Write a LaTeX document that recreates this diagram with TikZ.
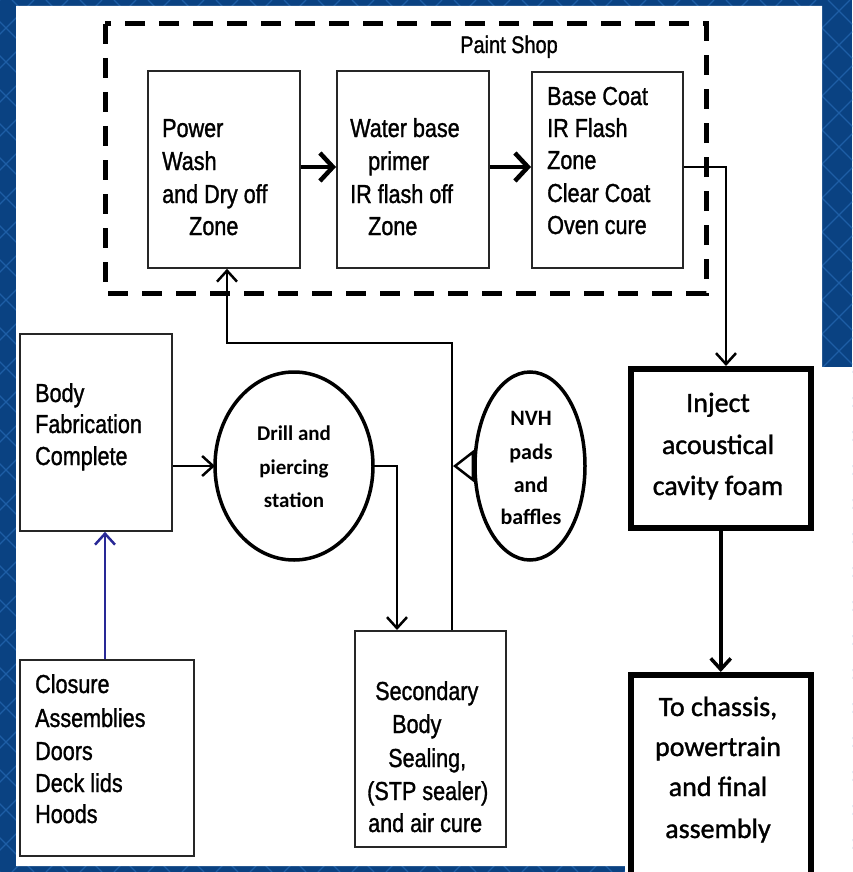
\documentclass[tikz,border=0pt]{standalone}
\usepackage{fontspec}
\setmainfont{Liberation Sans}
\newfontfamily\narrowf{Liberation Sans}[FakeStretch=0.83,FakeBold=1.2]
\newfontfamily\calib{Carlito}[FakeBold=1.2]
\newfontfamily\calibb{Carlito Bold}
\usetikzlibrary{arrows.meta,shapes.geometric}
\definecolor{bgblue}{RGB}{10,66,130}
\definecolor{bgline}{RGB}{30,94,165}
\definecolor{navy}{RGB}{40,40,150}
\begin{document}
\begin{tikzpicture}[x=1pt,y=-1pt,
  box/.style={draw=black!85, line width=1.8pt, inner sep=0pt, anchor=north west},
  tbox/.style={draw=black, line width=5.5pt, inner sep=0pt, anchor=north west},
  oval/.style={ellipse, draw=black, line width=3.5pt, inner sep=0pt, outer sep=0pt},
  nt/.style={font=\narrowf\fontsize{26}{30}\selectfont, anchor=base west, inner sep=0pt},
  ct/.style={font=\calib\fontsize{28}{34}\selectfont, anchor=base, inner sep=0pt},
  dt/.style={font=\calibb\fontsize{21}{26}\selectfont, anchor=base, inner sep=0pt},
  vt/.style={font=\calibb\fontsize{22}{26}\selectfont, anchor=base, inner sep=0pt},
  arr/.style={-{Straight Barb[length=11pt,width=20pt]}, line width=2.5pt},
  thickarr/.style={-{Straight Barb[length=13pt,width=28pt]}, line width=4.5pt},
  openarr/.style={-{Triangle[open,length=21pt,width=32pt,line width=2.5pt]}, line width=3pt},
]
\useasboundingbox (0,0) rectangle (852,872);
\clip (0,0) rectangle (852,872);
% background
\fill[bgblue] (0,0) rectangle (852,872);
\foreach \c in {0,34,...,1760} {
  \draw[bgline, line width=1.2pt] (\c,0) -- (\c-872,872);
  \draw[bgline, line width=1.2pt] (\c-872,0) -- (\c,872);
}
\fill[white] (16,6) -- (822,6) -- (822,367) -- (852,367) -- (852,872) -- (625,872) -- (625,866) -- (16,866) -- cycle;

% paint shop frame
\draw[line width=5pt, dash pattern=on 20pt off 14pt] (105,24) rectangle (706,293);
\node[font=\narrowf\fontsize{24}{28}\selectfont, anchor=base, inner sep=0pt] (ps) at (509,53) {Paint Shop};

% boxes
\node[box, minimum width=152pt, minimum height=197pt] (pw) at (147,70) {};
\node[box, minimum width=152pt, minimum height=197pt] (wb) at (336,70) {};
\node[box, minimum width=151pt, minimum height=196pt] (bc) at (531,71) {};
\node[box, minimum width=152pt, minimum height=197pt] (bf) at (19,333) {};
\node[box, minimum width=174pt, minimum height=196pt] (cl) at (19,659) {};
\node[box, minimum width=151pt, minimum height=216pt] (sb) at (354,630) {};
\node[tbox, minimum width=180pt, minimum height=159pt] (ij) at (628,366) {};
\node[tbox, minimum width=180pt, minimum height=240pt] (fa) at (628,672) {};
\node[oval, minimum width=158pt, minimum height=188pt] (dr) at (294,466) {};
\node[oval, minimum width=110pt, minimum height=188pt] (nv) at (530,466) {};

% texts
\foreach \t/\x/\y [count=\i] in {Power/162/137, Wash/162/170, and Dry off/162/203, Zone/189/235,
  Water base/350/137, primer/368/170, IR flash off/350/203, Zone/368/235,
  Base Coat/547/105, IR Flash/547/137, Zone/547/169, Clear Coat/547/202, Oven cure/547/234,
  Body/35/402, Fabrication/35/433, Complete/35/465,
  Closure/35/693, Assemblies/35/727, Doors/35/760, Deck lids/35/792, Hoods/35/823,
  Secondary/375/700, Body/392/733, {Sealing,}/388/767, (STP sealer)/367/800, and air cure/368/832}
  \node[nt] (n\i) at (\x,\y) {\t};
\foreach \t/\y [count=\i] in {Drill and/440, piercing/474, station/507}
  \node[dt] (d\i) at (294,\y) {\t};
\foreach \t/\y [count=\i] in {NVH/425, pads/459, and/492, baffles/524}
  \node[vt] (v\i) at (531,\y) {\t};
\foreach \t/\y [count=\i] in {Inject/412, acoustical/454, cavity foam/495}
  \node[ct] (i\i) at (718,\y) {\t};
\foreach \t/\y [count=\i] in {{To chassis,}/716, powertrain/756, and final/796, assembly/838}
  \node[ct] (f\i) at (718,\y) {\t};

% connectors
\draw[thickarr] (pw.east |- 0,167) -- (wb.west |- 0,167);
\draw[thickarr] (wb.east |- 0,167) -- (bc.west |- 0,167);
\draw[arr] (bc.east |- 0,167) -- (726,167) -- (ij.north -| 726,0);
\coordinate (r1) at (452,343);
\draw[arr] (sb.north -| 452,0) -- (r1) -- (227,343) -- (pw.south -| 227,0);
\draw[openarr] (nv.west) -- (nv.west -| 453,0);
\draw[arr] (bf.east |- 0,466) -- (dr.west);
\draw[arr] (dr.east) -- (397,466) -- (sb.north -| 397,0);
\draw[arr, navy] (cl.north -| 105,0) -- (bf.south -| 105,0);
\draw[arr, line width=3.5pt] (ij.south) -- (fa.north);
\end{tikzpicture}
\end{document}
